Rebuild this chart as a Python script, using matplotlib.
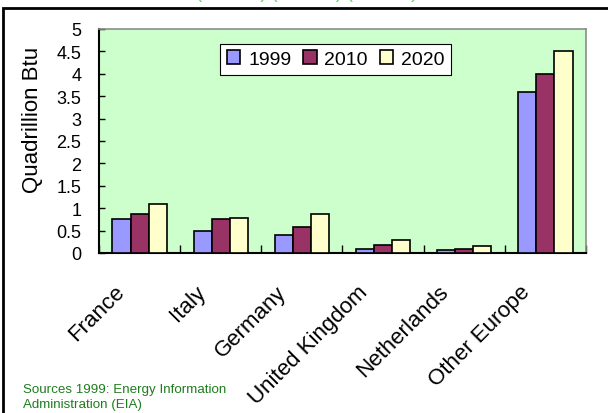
import matplotlib
matplotlib.use("Agg")
import matplotlib.pyplot as plt
import numpy as np
from matplotlib.patches import Rectangle

plt.rcParams['font.family'] = ['Liberation Sans', 'Noto Sans CJK SC', 'DejaVu Sans']

categories = ["France", "Italy", "Germany", "United Kingdom", "Netherlands", "Other Europe"]
years = ["1999", "2010", "2020"]
v1999 = [0.75, 0.50, 0.41, 0.09, 0.06, 3.6]
v2010 = [0.88, 0.75, 0.59, 0.18, 0.08, 4.0]
v2020 = [1.10, 0.78, 0.88, 0.28, 0.15, 4.5]
series = [v1999, v2010, v2020]
colors = ["#9999FF", "#993366", "#FFFFCC"]
yticks = [0, 0.5, 1, 1.5, 2, 2.5, 3, 3.5, 4, 4.5, 5]
ytick_labels = ["0", "0.5", "1", "1.5", "2", "2.5", "3", "3.5", "4", "4.5", "5"]

W, H = 608, 414
fig = plt.figure(figsize=(W / 100, H / 100), dpi=100)
ax = fig.add_axes([99.3 / W, 1 - 254 / H, 486.4 / W, 224 / H])
ax.set_facecolor("#CCFFCC")

x = np.arange(len(categories))
bw = 0.225
for k, (vals, c, yr) in enumerate(zip(series, colors, years)):
    ax.bar(x + (k - 1) * bw, vals, width=bw, color=c, edgecolor="black",
           linewidth=1.2, label=yr, zorder=3)

ax.set_xlim(-0.5, len(categories) - 0.5)
ax.set_ylim(0, 5)
ax.set_yticks(yticks)
ax.set_yticklabels(ytick_labels, fontsize=13)
ax.tick_params(axis="y", direction="in", length=4, width=1, pad=13, colors="black")

# category boundary ticks (inward), labels on minor ticks
ax.set_xticks(np.arange(len(categories) + 1) - 0.5)
ax.set_xticklabels([])
ax.tick_params(axis="x", which="major", direction="in", length=6, width=1)
ax.set_xticks(x - 0.23, minor=True)
ax.set_xticklabels(categories, minor=True, fontsize=16, rotation=45,
                   ha="right", va="center", rotation_mode="anchor")
ax.tick_params(axis="x", which="minor", length=0, pad=25.5)

for s in ["left", "bottom"]:
    ax.spines[s].set_color("black")
    ax.spines[s].set_linewidth(1.5)
for s in ["top", "right"]:
    ax.spines[s].set_color("#8c8c8c")
    ax.spines[s].set_linewidth(1.2)

ax.set_ylabel("Quadrillion Btu", fontsize=16)
ax.yaxis.set_label_coords(-0.116, 0.598)

leg = ax.legend(loc="upper center", bbox_to_anchor=(0.486, 0.935), ncol=3,
                fontsize=14, frameon=True, fancybox=False, handlelength=0.7,
                handleheight=0.7, handletextpad=0.4, columnspacing=0.6,
                borderpad=0.35, borderaxespad=0)
leg.get_frame().set_edgecolor("black")
leg.get_frame().set_linewidth(0.8)
leg.get_frame().set_facecolor("white")
leg.get_frame().set_alpha(1)

# outer frame
fig.patches.append(Rectangle((3 / W, -0.05), 1.1, 1 - 9 / H + 0.05,
                             transform=fig.transFigure, fill=False,
                             edgecolor="black", linewidth=2))

fig.text(23 / W, 1 - 408 / H, "Sources 1999: Energy Information\nAdministration (EIA)",
         color="#1E7D1E", fontsize=9.6, ha="left", va="baseline", linespacing=1.35)

fig.text(307 / W, 1 + 2 / H, "(1999年) (2010年) (2020年)", color="#66CC66",
         fontsize=13, ha="center", va="baseline")

fig.savefig("out.png", dpi=100)
